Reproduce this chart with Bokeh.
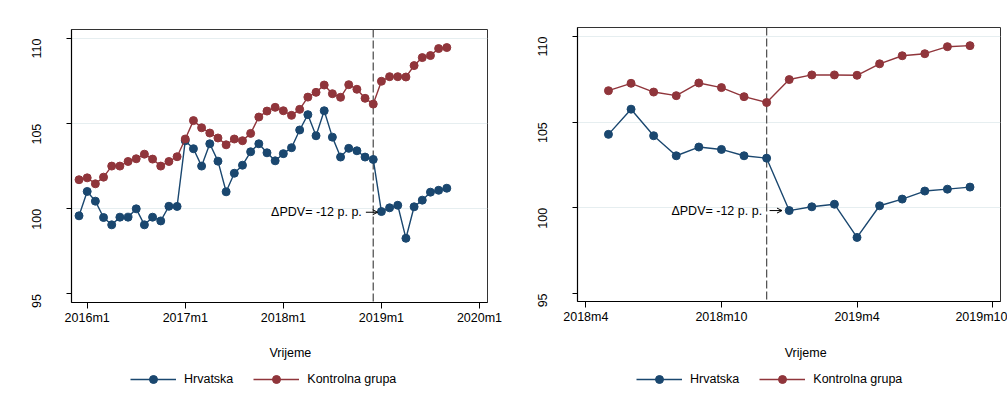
import math
from bokeh.plotting import figure
from bokeh.models import (Range1d, FixedTicker, Span, Label, Legend, LegendItem,
                          Arrow, OpenHead)
from bokeh.layouts import row, column
from bokeh.embed import file_html
from bokeh.resources import INLINE

# ---------------- data ----------------
month_labels = (["2015m12"]
                + [f"{y}m{m}" for y in (2016, 2017, 2018) for m in range(1, 13)]
                + [f"2019m{m}" for m in range(1, 10)])

hrvatska = [99.59, 101.02, 100.45, 99.49, 99.06, 99.51, 99.51, 100.0, 99.06, 99.51,
            99.29, 100.15, 100.14, 104.0, 103.53, 102.51, 103.82, 102.80, 101.0, 102.09,
            102.56, 103.35, 103.82, 103.29, 102.82, 103.24, 103.59, 104.63, 105.53, 104.29,
            105.76, 104.21, 103.04, 103.55, 103.41, 103.04, 102.90, 99.84, 100.06, 100.21,
            98.27, 100.12, 100.51, 100.98, 101.09, 101.21]

kontrolna = [101.71, 101.82, 101.47, 101.86, 102.51, 102.51, 102.78, 102.94, 103.21, 102.92,
             102.51, 102.78, 103.06, 104.10, 105.18, 104.76, 104.45, 104.16, 103.76, 104.10,
             104.0, 104.43, 105.39, 105.74, 105.96, 105.76, 105.49, 105.84, 106.56, 106.84,
             107.27, 106.76, 106.55, 107.29, 107.02, 106.49, 106.15, 107.49, 107.76, 107.76,
             107.74, 108.41, 108.88, 109.0, 109.41, 109.47]

left_ticks = ["2016m1", "2017m1", "2018m1", "2019m1", "2020m1"]
right_ticks = ["2018m4", "2018m10", "2019m4", "2019m10"]
right_start = "2018m5"
y_ticks = [95, 100, 105, 110]
grid_ticks = [100, 105, 110]
treatment_month = "2018m12"
annotation_text = "ΔPDV= -12 p. p."
xlabel = "Vrijeme"
series_names = ["Hrvatska", "Kontrolna grupa"]

BLUE = "#1a476f"
RED = "#90353b"
FONT = "Liberation Sans"
FS = "12.5px"

TOP_H = 330
BOT_H = 71


def mi(s):
    y, m = s.split("m")
    return (int(y) - 2016) * 12 + int(m) - 1


def make_panel(labels, hr, kg, width, borders, xr, yr, xticks,
               ann_x, arrow_x, ann_y):
    bl, br, bt, bb = borders
    p = figure(width=width, height=TOP_H, output_backend="svg", toolbar_location=None,
               x_range=Range1d(*xr), y_range=Range1d(*yr),
               min_border_left=bl, min_border_right=br, min_border_top=bt, min_border_bottom=bb,
               background_fill_color="white", border_fill_color="white")
    p.outline_line_color = "#333333"
    p.outline_line_width = 1

    xs = [mi(s) for s in labels]

    p.xgrid.visible = False
    p.ygrid.ticker = FixedTicker(ticks=grid_ticks)
    p.ygrid.grid_line_color = "#e6eef0"
    p.ygrid.grid_line_width = 1

    sp = Span(location=mi(treatment_month), dimension="height", line_color="#555555",
              line_dash="8 3", line_width=1.3, level="underlay")
    p.add_layout(sp)

    p.line(xs, hr, line_color=BLUE, line_width=1.4)
    p.scatter(xs, hr, size=8, fill_color=BLUE, line_color=BLUE)
    p.line(xs, kg, line_color=RED, line_width=1.4)
    p.scatter(xs, kg, size=8, fill_color=RED, line_color=RED)

    for ax in (p.xaxis, p.yaxis):
        ax.axis_line_color = "black"
        ax.axis_line_width = 1.2
        ax.major_tick_line_color = "black"
        ax.major_tick_in = 0
        ax.minor_tick_line_color = None
        ax.major_label_text_font = FONT
        ax.major_label_text_color = "black"
        ax.major_label_text_font_size = FS

    p.xaxis.ticker = FixedTicker(ticks=[mi(t) for t in xticks])
    p.xaxis.major_label_overrides = {mi(t): t for t in xticks}
    p.xaxis.major_tick_out = 6
    p.xaxis.major_label_standoff = 2

    p.yaxis.ticker = FixedTicker(ticks=y_ticks)
    p.yaxis.major_tick_out = 5
    p.yaxis.major_label_orientation = math.pi / 2
    p.yaxis.major_label_standoff = 30

    p.add_layout(Label(x=ann_x, y=ann_y, text=annotation_text, text_align="right",
                       text_baseline="middle", text_font=FONT, text_font_size=FS,
                       text_color="black"))
    p.add_layout(Arrow(x_start=arrow_x[0], x_end=arrow_x[1], y_start=ann_y, y_end=ann_y,
                       line_color="black", line_width=1,
                       end=OpenHead(size=5, line_color="black", line_width=1)))
    return p


def make_bottom(width, label_x, legend_x):
    b = figure(width=width, height=BOT_H, output_backend="svg", toolbar_location=None,
               x_range=Range1d(0, width), y_range=Range1d(0, BOT_H),
               x_axis_location=None, y_axis_location=None, min_border=0,
               background_fill_color="white", border_fill_color="white")
    b.outline_line_color = None
    b.grid.visible = False
    b.add_layout(Label(x=label_x, y=48.3, text=xlabel, text_align="center",
                       text_baseline="middle", text_font=FONT, text_font_size=FS,
                       text_color="black"))
    # legend-only renderers, placed outside the visible range
    off_x, off_y = [-50, -40], [-50, -50]
    l1 = b.line(off_x, off_y, line_color=BLUE, line_width=1.4)
    s1 = b.scatter(off_x, off_y, size=8, fill_color=BLUE, line_color=BLUE)
    l2 = b.line(off_x, off_y, line_color=RED, line_width=1.4)
    s2 = b.scatter(off_x, off_y, size=8, fill_color=RED, line_color=RED)
    legend = Legend(items=[LegendItem(label=series_names[0], renderers=[l1, s1]),
                           LegendItem(label=series_names[1], renderers=[l2, s2])],
                    orientation="horizontal", location=(legend_x, 12),
                    glyph_width=46, glyph_height=20, label_height=20,
                    label_standoff=8, spacing=20, padding=0, margin=0,
                    border_line_color=None, background_fill_alpha=0,
                    label_text_font=FONT, label_text_font_size=FS,
                    label_text_color="black")
    b.add_layout(legend, "center")
    return b


p1 = make_panel(month_labels, hrvatska, kontrolna, 507, (71, 20, 29, 28),
                (-1.92, 48.98), (94.5, 110.53), left_ticks,
                33.6, (34.1, 35.54), 99.8)
b1 = make_bottom(507, 266.7, 59)

k = month_labels.index(right_start)
p2 = make_panel(month_labels[k:], hrvatska[k:], kontrolna[k:], 500, (70, 7, 27, 29),
                (26.63, 45.35), (94.53, 110.53), right_ticks,
                34.80, (35.13, 35.68), 99.84)
b2 = make_bottom(500, 269.7, 59)

layout = row(column(p1, b1), column(p2, b2))
open("out.html", "w").write(file_html(layout, INLINE))
